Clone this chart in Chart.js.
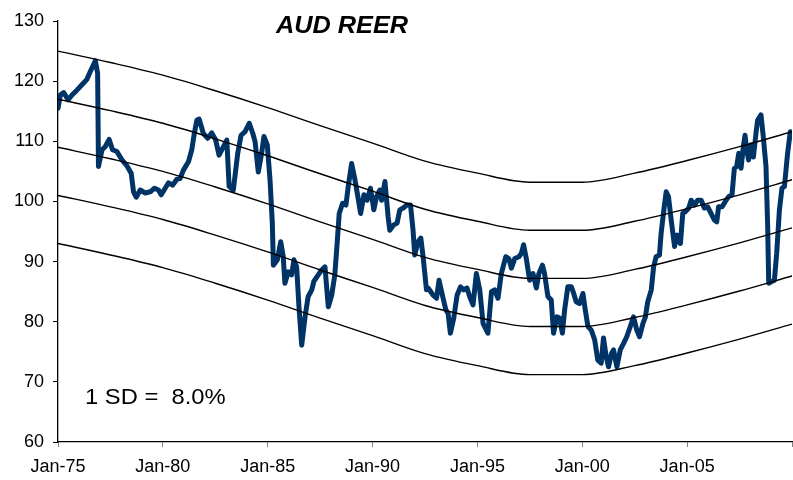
<!DOCTYPE html>
<html>
<head>
<meta charset="utf-8">
<title>AUD REER</title>
<script src="https://cdn.jsdelivr.net/npm/chart.js@4.4.1/dist/chart.umd.min.js"></script>
<style>
  html, body { margin: 0; padding: 0; background: #fff; }
  #wrap { width: 793px; height: 480px; }
</style>
</head>
<body>
<div id="wrap"><canvas id="reerChart" width="793" height="480"></canvas></div>
<script>
var reerDates = [1975.00,1975.11,1975.27,1975.48,1975.67,1975.90,1976.14,1976.38,1976.54,1976.78,1976.89,1976.93,
  1977.10,1977.25,1977.44,1977.60,1977.81,1978.05,1978.29,1978.49,1978.60,1978.73,1978.92,1979.16,1979.40,1979.60,
  1979.79,1979.92,1980.11,1980.27,1980.46,1980.67,1980.82,1980.98,1981.22,1981.38,1981.50,1981.62,1981.73,1981.93,
  1982.14,1982.33,1982.52,1982.68,1982.89,1983.05,1983.16,1983.36,1983.57,1983.73,1983.92,1984.12,1984.29,1984.40,
  1984.55,1984.71,1984.82,1984.98,1985.11,1985.22,1985.27,1985.46,1985.62,1985.74,1985.82,1985.98,1986.14,1986.25,
  1986.38,1986.49,1986.62,1986.78,1986.93,1987.10,1987.20,1987.41,1987.57,1987.73,1987.89,1988.05,1988.20,1988.31,
  1988.41,1988.57,1988.73,1988.84,1989.00,1989.16,1989.27,1989.43,1989.59,1989.74,1989.90,1990.06,1990.19,1990.35,
  1990.43,1990.59,1990.74,1990.82,1991.01,1991.17,1991.30,1991.46,1991.62,1991.81,1991.93,1992.01,1992.17,1992.30,
  1992.41,1992.57,1992.65,1992.89,1993.05,1993.17,1993.33,1993.49,1993.60,1993.71,1993.87,1994.03,1994.19,1994.35,
  1994.50,1994.63,1994.79,1994.95,1995.11,1995.27,1995.50,1995.67,1995.82,1995.98,1996.14,1996.35,1996.50,1996.62,
  1996.78,1996.98,1997.10,1997.20,1997.33,1997.49,1997.65,1997.81,1997.93,1998.10,1998.20,1998.36,1998.52,1998.63,
  1998.79,1998.92,1999.05,1999.16,1999.31,1999.48,1999.59,1999.71,1999.87,2000.03,2000.14,2000.27,2000.43,2000.59,
  2000.74,2000.90,2001.01,2001.14,2001.25,2001.40,2001.49,2001.65,2001.81,2001.97,2002.12,2002.29,2002.44,2002.60,
  2002.73,2002.89,2003.01,2003.12,2003.29,2003.40,2003.52,2003.68,2003.76,2003.89,2004.00,2004.11,2004.24,2004.40,
  2004.52,2004.68,2004.79,2004.92,2005.08,2005.19,2005.35,2005.50,2005.67,2005.82,2005.98,2006.14,2006.30,2006.41,
  2006.50,2006.67,2006.82,2006.98,2007.14,2007.25,2007.36,2007.46,2007.57,2007.68,2007.76,2007.84,2007.93,2008.05,
  2008.16,2008.29,2008.36,2008.52,2008.63,2008.76,2008.84,2008.89,2009.05,2009.16,2009.27,2009.40,2009.52,2009.64,
  2009.79,2009.92];
var reerValues = [115.5,117.7,118.1,116.9,117.7,118.5,119.4,120.3,121.6,123.4,121.3,105.8,
  108.6,109.1,110.3,108.6,108.3,106.9,105.9,104.7,101.6,100.7,101.9,101.4,101.6,102.2,
  101.9,101.1,102.2,103.1,102.7,103.7,103.8,105.2,106.6,108.6,111.3,113.5,113.7,111.3,
  110.5,111.4,110.2,107.7,109.1,110.2,102.5,101.9,108.0,111.0,111.6,113.0,111.3,109.9,
  104.9,108.0,110.8,109.4,103.6,96.4,89.4,90.3,93.3,90.8,86.4,88.3,87.8,90.3,
  89.1,82.5,76.1,80.8,84.2,85.3,86.7,87.8,88.6,89.1,82.5,84.4,87.8,93.0,
  98.0,99.7,99.4,102.5,106.3,103.6,101.4,98.0,101.1,100.2,102.2,98.6,100.8,101.9,
  100.2,103.3,97.5,95.2,96.1,96.4,98.6,98.9,99.4,99.4,95.2,91.1,93.3,93.9,
  90.8,85.3,85.6,84.4,83.9,86.9,84.4,82.0,81.4,78.1,80.6,84.4,85.8,85.3,
  85.6,84.2,82.8,88.0,85.3,79.7,78.1,85.0,85.3,83.9,88.0,90.8,90.5,88.9,
  90.5,90.8,91.4,92.8,90.5,86.9,88.0,85.6,88.0,89.4,88.0,84.2,83.6,78.1,
  80.8,80.6,78.1,82.0,85.8,85.8,84.7,83.3,83.0,84.7,82.0,79.2,78.6,77.0,
  73.6,73.1,77.3,74.2,72.5,74.8,75.3,72.5,75.3,76.4,77.5,79.2,80.8,78.6,
  77.5,79.7,80.8,83.3,85.3,89.1,90.8,91.1,94.7,98.6,101.6,100.8,96.9,92.5,
  94.4,93.0,98.0,98.3,98.9,100.2,99.4,100.2,100.2,98.9,99.1,98.0,96.9,96.6,
  99.1,99.1,100.0,100.8,101.1,105.5,105.8,108.0,105.5,109.1,111.0,108.6,106.9,109.4,
  107.4,111.6,113.5,114.4,110.8,105.8,95.8,86.4,86.7,86.9,91.4,98.6,102.2,102.5,
  108.0,111.6];

// trend and +/- 1 and 2 standard deviation bands
var trendDates = [1975,1977.5,1980,1982.5,1985,1987.5,1990,1992.5,1995,1997.5,2000,2002.5,2005,2007.5,2010];
var trendMid   = [109.0,107.1,105.0,102.4,99.6,96.6,93.7,90.7,88.7,87.2,87.2,88.7,90.8,93.1,95.6];
var trendUp1   = [117.0,115.1,113.0,110.4,107.6,104.6,101.7,98.7,96.7,95.2,95.2,96.7,98.8,101.1,103.6];
var trendUp2   = [125.0,123.1,121.0,118.4,115.6,112.6,109.7,106.7,104.7,103.2,103.2,104.7,106.8,109.1,111.6];
var trendDn1   = [101.0,99.1,97.0,94.4,91.6,88.6,85.7,82.7,80.7,79.2,79.2,80.7,82.8,85.1,87.6];
var trendDn2   = [93.0,91.1,89.0,86.4,83.6,80.6,77.7,74.7,72.7,71.2,71.2,72.7,74.8,77.1,79.6];

var yTicks = [60, 70, 80, 90, 100, 110, 120, 130];
var xTickYears = [1975, 1980, 1985, 1990, 1995, 2000, 2005];

var FONT = "'Liberation Sans', Arial, sans-serif";

function pts(xs, ys) {
  return xs.map(function (x, i) { return { x: x, y: ys[i] }; });
}

function bandSet(label, ys) {
  return {
    label: label,
    data: pts(trendDates, ys),
    borderColor: '#000000',
    borderWidth: 1.4,
    pointRadius: 0,
    cubicInterpolationMode: 'monotone',
    order: 1
  };
}

// text drawn inside the plot, like the original
var labelsPlugin = {
  id: 'chartLabels',
  afterDraw: function (chart) {
    var ctx = chart.ctx;
    ctx.save();
    ctx.fillStyle = '#000';
    ctx.textBaseline = 'middle';
    ctx.textAlign = 'center';
    ctx.font = 'italic bold 23px ' + FONT;
    ctx.translate(342, 27);
    ctx.scale(1.1, 1);
    ctx.fillText('AUD REER', 0, 0);
    ctx.restore();

    ctx.save();
    ctx.fillStyle = '#000';
    ctx.textBaseline = 'middle';
    ctx.textAlign = 'left';
    ctx.font = '22px ' + FONT;
    ctx.translate(85, 398);
    ctx.scale(1.08, 1);
    ctx.fillText('1 SD =  8.0%', 0, 0);
    ctx.restore();
  }
};

var ctxR = document.getElementById('reerChart').getContext('2d');
var reerChart = new Chart(ctxR, {
  type: 'line',
  data: {
    datasets: [
      {
        label: 'AUD REER',
        data: pts(reerDates, reerValues),
        borderColor: '#003366',
        borderWidth: 5,
        pointRadius: 0,
        tension: 0,
        borderJoinStyle: 'round',
        borderCapStyle: 'round',
        order: 2
      },
      bandSet('+2 SD', trendUp2),
      bandSet('+1 SD', trendUp1),
      bandSet('Trend', trendMid),
      bandSet('-1 SD', trendDn1),
      bandSet('-2 SD', trendDn2)
    ]
  },
  options: {
    responsive: false,
    animation: false,
    layout: { padding: { top: 21, right: 1, bottom: 0, left: 0 } },
    plugins: {
      legend: { display: false },
      tooltip: { enabled: false }
    },
    scales: {
      x: {
        type: 'linear',
        min: 1975,
        max: 2010,
        afterBuildTicks: function (scale) {
          scale.ticks = xTickYears.concat([2010]).map(function (v) { return { value: v }; });
        },
        afterFit: function (scale) {
          scale.height = 38;
          scale.paddingLeft = 0;
          scale.paddingRight = 0;
        },
        ticks: {
          autoSkip: false,
          maxRotation: 0,
          padding: 9,
          color: '#000',
          font: { family: FONT, size: 18 },
          callback: function (v) {
            return v < 2010 ? 'Jan-' + String(v).slice(2) : '';
          }
        },
        grid: { drawOnChartArea: false, drawTicks: true, tickLength: 5, color: '#808080' },
        border: { color: '#000', width: 1.3 }
      },
      y: {
        min: 60,
        max: 130,
        afterBuildTicks: function (scale) {
          scale.ticks = yTicks.map(function (v) { return { value: v }; });
        },
        afterFit: function (scale) { scale.width = 58; },
        ticks: {
          padding: 9,
          color: '#000',
          font: { family: FONT, size: 18 }
        },
        grid: { drawOnChartArea: false, drawTicks: true, tickLength: 5, color: '#000' },
        border: { color: '#000', width: 1.3 }
      }
    }
  },
  plugins: [labelsPlugin]
});
</script>
</body>
</html>
